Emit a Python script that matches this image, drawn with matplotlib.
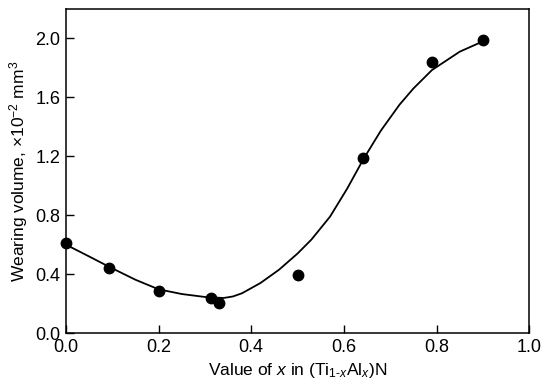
import numpy as np
import matplotlib
matplotlib.use('Agg')
import matplotlib.pyplot as plt

plt.rcParams['font.family'] = ['Liberation Sans', 'DejaVu Sans']
plt.rcParams['mathtext.fontset'] = 'custom'
plt.rcParams['mathtext.rm'] = 'Liberation Sans'
plt.rcParams['mathtext.it'] = 'Liberation Sans:italic'

# measured points
x_pts = [0.0, 0.093, 0.20, 0.313, 0.33, 0.50, 0.642, 0.79, 0.90]
y_pts = [0.61, 0.44, 0.285, 0.24, 0.205, 0.395, 1.19, 1.84, 1.99]

# fitted curve
x_fit = [0.0, 0.05, 0.095, 0.15, 0.20, 0.25, 0.30, 0.34, 0.36, 0.38, 0.42, 0.46,
         0.50, 0.53, 0.57, 0.607, 0.642, 0.68, 0.72, 0.75, 0.79, 0.85, 0.90]
y_fit = [0.60, 0.52, 0.447, 0.362, 0.297, 0.265, 0.245, 0.238, 0.248, 0.27, 0.34, 0.43,
         0.54, 0.635, 0.79, 0.98, 1.18, 1.375, 1.55, 1.66, 1.785, 1.91, 1.98]

fig = plt.figure(figsize=(5.45, 3.9), dpi=100)
ax = fig.add_axes([0.121, 0.146, 0.850, 0.831])

ax.plot(x_fit, y_fit, color='black', lw=1.3)
ax.plot(x_pts, y_pts, 'o', color='black', ms=7.5, clip_on=False)

ax.set_xlim(0, 1.0)
ax.set_ylim(0, 2.2)
ax.set_xticks(np.arange(0, 1.01, 0.2))
ax.set_yticks(np.arange(0, 2.01, 0.4))
ax.xaxis.set_major_formatter(plt.FormatStrFormatter('%.1f'))
ax.yaxis.set_major_formatter(plt.FormatStrFormatter('%.1f'))
ax.tick_params(direction='in', length=6, width=1, labelsize=13, pad=4)
for s in ax.spines.values():
    s.set_linewidth(1.1)

ax.set_xlabel(r'Value of $x$ in (Ti$_{1\text{-}x}$Al$_x$)N', fontsize=12.5, labelpad=4)
ax.set_ylabel(r'Wearing volume, $\times$10$^{-2}$ mm$^3$', fontsize=12.5, labelpad=4)

fig.savefig('out.png', dpi=100)
